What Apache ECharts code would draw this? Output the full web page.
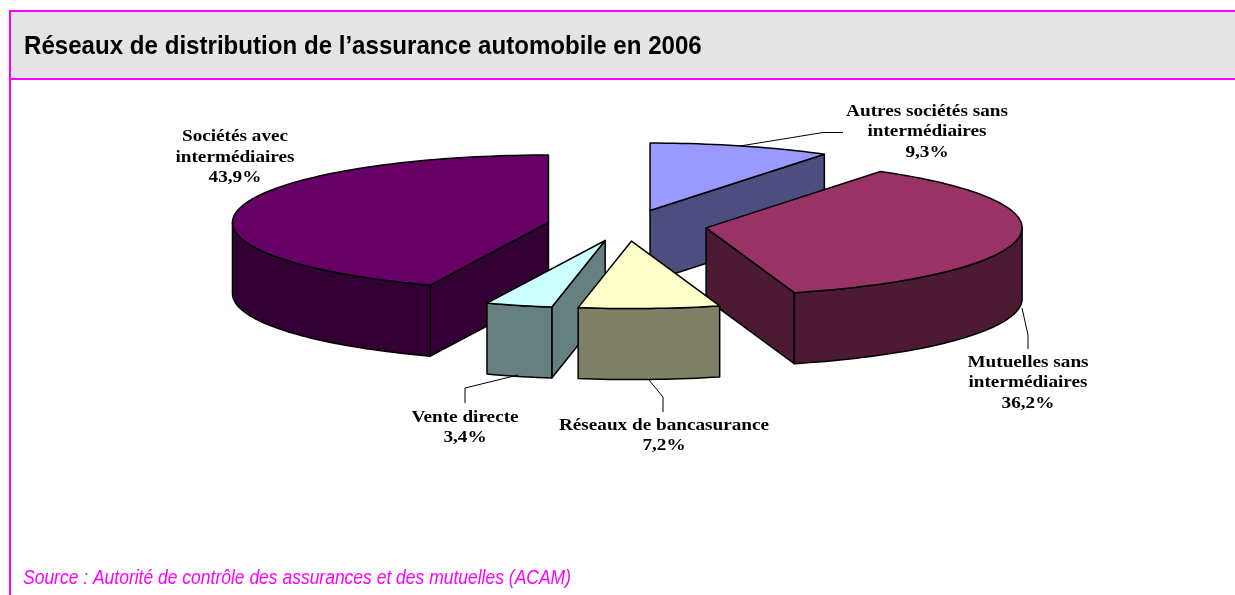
<!DOCTYPE html>
<html>
<head>
<meta charset="utf-8">
<style>html,body{margin:0;padding:0;background:#fff}#chart{width:1235px;height:595px}</style>
<script src="https://cdn.jsdelivr.net/npm/echarts@6/dist/echarts.min.js"></script>
</head>
<body>
<div id="chart"></div>
<script>
// ---- data (clockwise from the top of the pie) ----
const categories = ['Autres sociétés sans intermédiaires', 'Mutuelles sans intermédiaires', 'Réseaux de bancasurance', 'Vente directe', 'Sociétés avec intermédiaires'];
const shares = [9.3, 36.2, 7.2, 3.4, 43.9];
const shareLabels = ['9,3%', '36,2%', '7,2%', '3,4%', '43,9%'];
const labelLines = [
  ['Autres sociétés sans', 'intermédiaires'],
  ['Mutuelles sans', 'intermédiaires'],
  ['Réseaux de bancasurance'],
  ['Vente directe'],
  ['Sociétés avec', 'intermédiaires']
];
const titleText = 'Réseaux de distribution de l’assurance automobile en 2006';
const sourceText = 'Source : Autorité de contrôle des assurances et des mutuelles (ACAM)';

// ---- styling / layout ----
const topColors = ['#9999ff', '#993366', '#ffffcc', '#ccffff', '#660066'];
const wallColors = ['#4d4d80', '#4d1a33', '#808066', '#668080', '#330033'];
const paintOrder = [0, 4, 1, 3, 2];
const pie = { cx: 627, cy: 225.5, a: 316, b: 67.5, depth: 71, explodeX: 80, explodeY: 15.6 };
const labelCenters = [[927, 111.5], [1028, 362.5], [664, 425.5], [465, 417.5], [235, 137]];
const lineHeight = 20.5;
const leaders = [
  [[740, 146], [823, 132.5], [843, 132.5]],
  [[1022, 308], [1028, 335], [1028, 349]],
  [[649, 380], [663, 397], [663, 412]],
  [[518, 375], [465, 388], [465, 403]],
  null
];
const MAGENTA = '#ff00ff';
const labelFont = 'bold 16px "Liberation Serif", serif';
const labelScaleX = 1.2;

const rad = d => d * Math.PI / 180;
const total = shares.reduce((s, v) => s + v, 0);
const starts = [];
shares.reduce((acc, v, i) => { starts[i] = acc; return acc + v; }, 0);

function renderSlice(params, api) {
  const i = api.value(0);
  const share = api.value(1);
  const paint = paintOrder.indexOf(i);
  const t0 = starts[i] / total * 360;
  const t1 = t0 + share / total * 360;
  const mid = rad((t0 + t1) / 2);
  const cx = pie.cx + pie.explodeX * Math.sin(mid);
  const cy = pie.cy - pie.explodeY * Math.cos(mid);
  const pt = (t, dz) => [cx + pie.a * Math.sin(rad(t)), cy - pie.b * Math.cos(rad(t)) + (dz || 0)];
  const arc = (a0, a1, dz) => {
    const n = Math.max(2, Math.ceil((a1 - a0) / 1.5));
    const out = [];
    for (let k = 0; k <= n; k++) out.push(pt(a0 + (a1 - a0) * k / n, dz));
    return out;
  };
  const d = pie.depth;
  const faceStyle = { fill: wallColors[i], stroke: '#000', lineWidth: 1.5, lineJoin: 'round' };
  const children = [];
  const poly = (points, style, z) => children.push({ type: 'polygon', shape: { points }, style, z2: paint * 10 + z, silent: true });

  // radial wall on the clockwise side, seen when it faces the viewer
  if (Math.sin(rad(t1)) > 0.01) {
    poly([[cx, cy], pt(t1), pt(t1, d), [cx, cy + d]], faceStyle, 1);
  }
  // radial wall on the counter-clockwise side
  if (Math.sin(rad(t0)) < -0.01) {
    poly([[cx, cy], pt(t0), pt(t0, d), [cx, cy + d]], faceStyle, 1);
  }
  // outer curved wall (front half only)
  const w0 = Math.max(t0, 90), w1 = Math.min(t1, 270);
  if (w1 > w0) {
    poly(arc(w0, w1, 0).concat(arc(w0, w1, d).reverse()), faceStyle, 2);
  }
  // top face
  poly([[cx, cy]].concat(arc(t0, t1, 0)), { fill: topColors[i], stroke: '#000', lineWidth: 1.5, lineJoin: 'round' }, 3);

  // leader line
  if (leaders[i]) {
    children.push({ type: 'polyline', shape: { points: leaders[i] }, style: { fill: null, stroke: '#000', lineWidth: 1 }, z2: 100, silent: true });
  }
  // label
  const lines = labelLines[i].concat([shareLabels[i]]);
  lines.forEach((text, k) => {
    children.push({
      type: 'text', x: labelCenters[i][0], y: labelCenters[i][1] + k * lineHeight, scaleX: labelScaleX, z2: 110, silent: true,
      style: { text, font: labelFont, fill: '#000', align: 'center', verticalAlign: 'middle' }
    });
  });
  return { type: 'group', children };
}

const chart = echarts.init(document.getElementById('chart'), null, { renderer: 'canvas' });
chart.setOption({
  animation: false,
  backgroundColor: '#ffffff',
  tooltip: { show: false },
  graphic: [
    { type: 'rect', z: 0, silent: true, shape: { x: 10, y: 11, width: 1225, height: 67 }, style: { fill: '#e4e4e4' } },
    { type: 'rect', z: 0, silent: true, shape: { x: 9, y: 10, width: 1226, height: 2 }, style: { fill: MAGENTA } },
    { type: 'rect', z: 0, silent: true, shape: { x: 9, y: 78, width: 1226, height: 2 }, style: { fill: MAGENTA } },
    { type: 'rect', z: 0, silent: true, shape: { x: 9, y: 10, width: 2, height: 585 }, style: { fill: MAGENTA } },
    { type: 'text', z: 1, silent: true, x: 24, y: 47, scaleX: 0.927,
      style: { text: titleText, font: 'bold 26px "Liberation Sans", Arial, sans-serif', fill: '#000', align: 'left', verticalAlign: 'middle' } },
    { type: 'text', z: 1, silent: true, x: 23, y: 578, scaleX: 0.874,
      style: { text: sourceText, font: 'italic 20px "Liberation Sans", Arial, sans-serif', fill: MAGENTA, align: 'left', verticalAlign: 'middle' } }
  ],
  series: [{
    type: 'custom',
    coordinateSystem: 'none',
    name: 'Réseaux',
    z: 5,
    clip: false,
    renderItem: renderSlice,
    encode: { value: 1, itemName: 2 },
    data: paintOrder.map(i => [i, shares[i], categories[i]])
  }]
});
</script>
</body>
</html>
